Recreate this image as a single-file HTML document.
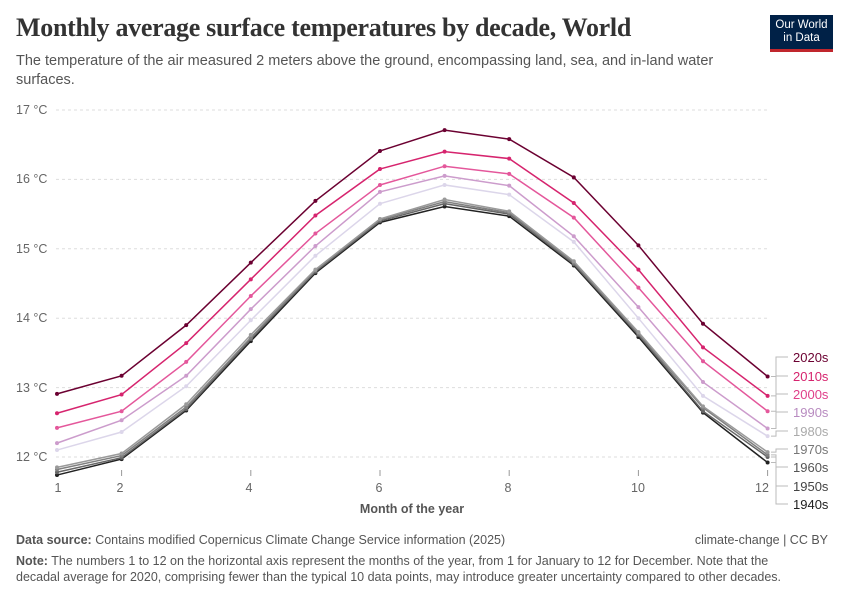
<!DOCTYPE html>
<html><head><meta charset="utf-8"><style>
body{margin:0;background:#fff;width:850px;height:600px;overflow:hidden;font-family:"Liberation Sans",sans-serif}
.t{position:absolute;left:16px;top:13px;font-family:"Liberation Serif",serif;font-size:26px;font-weight:bold;color:#333;letter-spacing:-0.3px}
.s{position:absolute;left:16px;top:52px;font-size:14.5px;color:#555;line-height:19px;width:720px}
.logo{position:absolute;left:770px;top:15px;width:63px;height:37px;background:#002147;border-bottom:3px solid #c0262d;color:#fff;font-size:11.5px;text-align:center;line-height:13px;padding-top:4px;box-sizing:border-box}
.f{position:absolute;left:16px;font-size:12.5px;color:#555}
</style></head><body>
<div class="t">Monthly average surface temperatures by decade, World</div>
<div class="s">The temperature of the air measured 2 meters above the ground, encompassing land, sea, and in-land water surfaces.</div>
<div class="logo">Our World<br>in Data</div>
<svg id="c" width="850" height="600" style="position:absolute;left:0;top:0" font-family="Liberation Sans, sans-serif">
<g font-size="12.5" fill="#666">
<text x="16" y="114">17 °C</text><text x="16" y="183">16 °C</text><text x="16" y="253">15 °C</text>
<text x="16" y="322">14 °C</text><text x="16" y="392">13 °C</text><text x="16" y="461">12 °C</text>
<text x="58" y="492" text-anchor="middle">1</text><text x="120" y="492" text-anchor="middle">2</text>
<text x="249" y="492" text-anchor="middle">4</text><text x="379" y="492" text-anchor="middle">6</text>
<text x="508" y="492" text-anchor="middle">8</text><text x="638" y="492" text-anchor="middle">10</text>
<text x="762" y="492" text-anchor="middle">12</text>
</g>
<text x="412" y="513" font-size="12.5" fill="#555" font-weight="bold" text-anchor="middle">Month of the year</text>
</svg>
<div class="f" style="top:533px">
<b>Data source:</b> Contains modified Copernicus Climate Change Service information (2025)</div>
<div class="f" style="top:533px;left:auto;right:22px">climate-change | CC BY</div>
<div class="f" style="top:553px;line-height:16px;width:778px"><b>Note:</b> The numbers 1 to 12 on the horizontal axis represent the months of the year, from 1 for January to 12 for December. Note that the decadal average for 2020, comprising fewer than the typical 10 data points, may introduce greater uncertainty compared to other decades.</div>
<script>
var s=document.getElementById('c'),NS='http://www.w3.org/2000/svg';
function el(n,a){var e=document.createElementNS(NS,n);for(var k in a)e.setAttribute(k,a[k]);s.appendChild(e);return e;}
function X(m){return 57+(m-1)*64.6}function Y(v){return 110+(17-v)*69.4}
for(var v=12;v<=17;v++)el('line',{x1:56,x2:770,y1:Y(v),y2:Y(v),stroke:'#ddd','stroke-dasharray':'3,3'});
[1,2,4,6,8,10,12].forEach(function(m){el('line',{x1:X(m),x2:X(m),y1:470,y2:476,stroke:'#999'})});
var D=[
['1940s','#222','#222',[11.74,11.97,12.67,13.67,14.65,15.38,15.61,15.47,14.76,13.73,12.64,11.92],509],
['1950s','#666','#444',[11.78,11.99,12.69,13.7,14.67,15.4,15.65,15.5,14.78,13.76,12.66,12.0],491],
['1960s','#808080','#555',[11.82,12.02,12.72,13.72,14.69,15.42,15.68,15.52,14.8,13.78,12.71,12.03],472],
['1970s','#9a9a9a','#777',[11.85,12.05,12.76,13.76,14.7,15.43,15.71,15.54,14.82,13.8,12.73,12.07],454],
['1980s','#dcd6ea','#aaa',[12.1,12.36,13.02,13.97,14.9,15.65,15.92,15.78,15.1,14.0,12.88,12.3],436],
['1990s','#cc9ccc','#b88bc0',[12.2,12.53,13.17,14.13,15.04,15.82,16.05,15.91,15.18,14.16,13.08,12.41],417],
['2000s','#e4579b','#e0408a',[12.42,12.66,13.37,14.32,15.22,15.92,16.19,16.08,15.45,14.44,13.38,12.66],399],
['2010s','#d6246e','#d6246e',[12.63,12.9,13.64,14.56,15.48,16.15,16.4,16.3,15.66,14.7,13.58,12.88],381],
['2020s','#6b0031','#6b0031',[12.91,13.17,13.9,14.8,15.69,16.41,16.71,16.58,16.03,15.05,13.92,13.16],362]];
D.forEach(function(d){var p=d[3].map(function(v,i){return X(i+1)+','+Y(v)}).join(' ');
el('polyline',{points:p,fill:'none',stroke:d[1],'stroke-width':1.5});
d[3].forEach(function(v,i){el('circle',{cx:X(i+1),cy:Y(v),r:2,fill:d[1]})});
var ey=Y(d[3][11]);el('polyline',{points:'771,'+ey+' 776,'+ey+' 776,'+(d[4]-5)+' 788,'+(d[4]-5),fill:'none',stroke:'#bbb'});
var t=el('text',{x:793,y:d[4],'font-size':13,fill:d[2]});t.textContent=d[0];});
</script>
</body></html>
